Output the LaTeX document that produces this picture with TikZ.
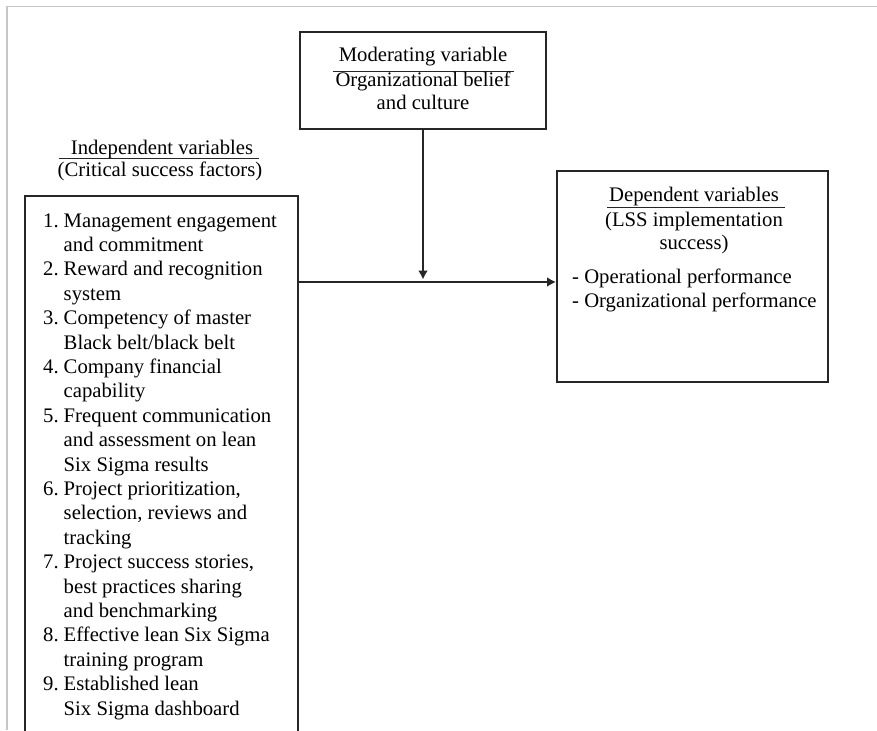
\documentclass[tikz,border=0pt]{standalone}
\usepackage{fontspec}
\setmainfont{Liberation Serif}
\usetikzlibrary{arrows.meta}
\begin{document}
\begin{tikzpicture}[x=1pt,y=-1pt,
  box/.style={draw=black!85, line width=2pt, inner sep=0pt},
  txt/.style={inner sep=0pt, font=\fontsize{20.7}{24.4}\selectfont},
  link/.style={line width=2pt, draw=black!85, -{Latex[length=9pt,width=10pt]}},
  rulestyle/.style={line width=1.5pt, draw=black!85}]
\useasboundingbox (0,0) rectangle (877,730);

% page frame
\draw[gray!45, line width=1.5pt] (7,730) -- (7,6.5) -- (877,6.5);

% boxes
\node[box, minimum width=273pt, minimum height=564pt] (ind) at (161.5,478) {};
\node[box, minimum width=246pt, minimum height=97pt] (mod) at (423,80.5) {};
\node[box, minimum width=271pt, minimum height=211pt] (dep) at (692.5,276.5) {};

% moderating variable
\node[txt, anchor=base] (modtitle) at (423,62) {Moderating variable};
\draw[rulestyle] ([xshift=-6pt,yshift=-9.5pt]modtitle.base west) -- ([xshift=7pt,yshift=-9.5pt]modtitle.base east);
\node[txt, anchor=base] (modsub1) at (423,87) {Organizational belief};
\node[txt, anchor=base] (modsub2) at (423,110) {and culture};

% independent variables
\node[txt, anchor=base] (indtitle) at (162,155) {Independent variables};
\draw[rulestyle] ([xshift=-12pt,yshift=-3.5pt]indtitle.base west) -- ([xshift=6pt,yshift=-3.5pt]indtitle.base east);
\node[txt, anchor=base] (indsub) at (160,177) {(Critical success factors)};
\node[txt, anchor=base west] (list) at (43,227) {\begin{tabular}[t]{@{}r@{\hspace{5pt}}l@{}}
1. & Management engagement\\
   & and commitment\\
2. & Reward and recognition\\
   & system\\
3. & Competency of master\\
   & Black belt/black belt\\
4. & Company financial\\
   & capability\\
5. & Frequent communication\\
   & and assessment on lean\\
   & Six Sigma results\\
6. & Project prioritization,\\
   & selection, reviews and\\
   & tracking\\
7. & Project success stories,\\
   & best practices sharing\\
   & and benchmarking\\
8. & Effective lean Six Sigma\\
   & training program\\
9. & Established lean\\
   & Six Sigma dashboard
\end{tabular}};

% dependent variables
\node[txt, anchor=base] (deptitle) at (694,201.5) {Dependent variables};
\draw[rulestyle] ([xshift=-2pt,yshift=-6.2pt]deptitle.base west) -- ([xshift=6pt,yshift=-6.2pt]deptitle.base east);
\node[txt, anchor=base] (depsub1) at (694,226.5) {(LSS implementation};
\node[txt, anchor=base] (depsub2) at (694,249) {success)};
\node[txt, anchor=base west] (depitems) at (572,283) {\begin{tabular}[t]{@{}l@{}}
- Operational performance\\
- Organizational performance
\end{tabular}};

% connectors
\coordinate (meet) at (424,282);
\draw[link, shorten >=2.5pt] (mod.south) -- (mod.south |- meet);
\draw[link] (ind.east |- meet) -- (dep.west |- meet);
\end{tikzpicture}
\end{document}
